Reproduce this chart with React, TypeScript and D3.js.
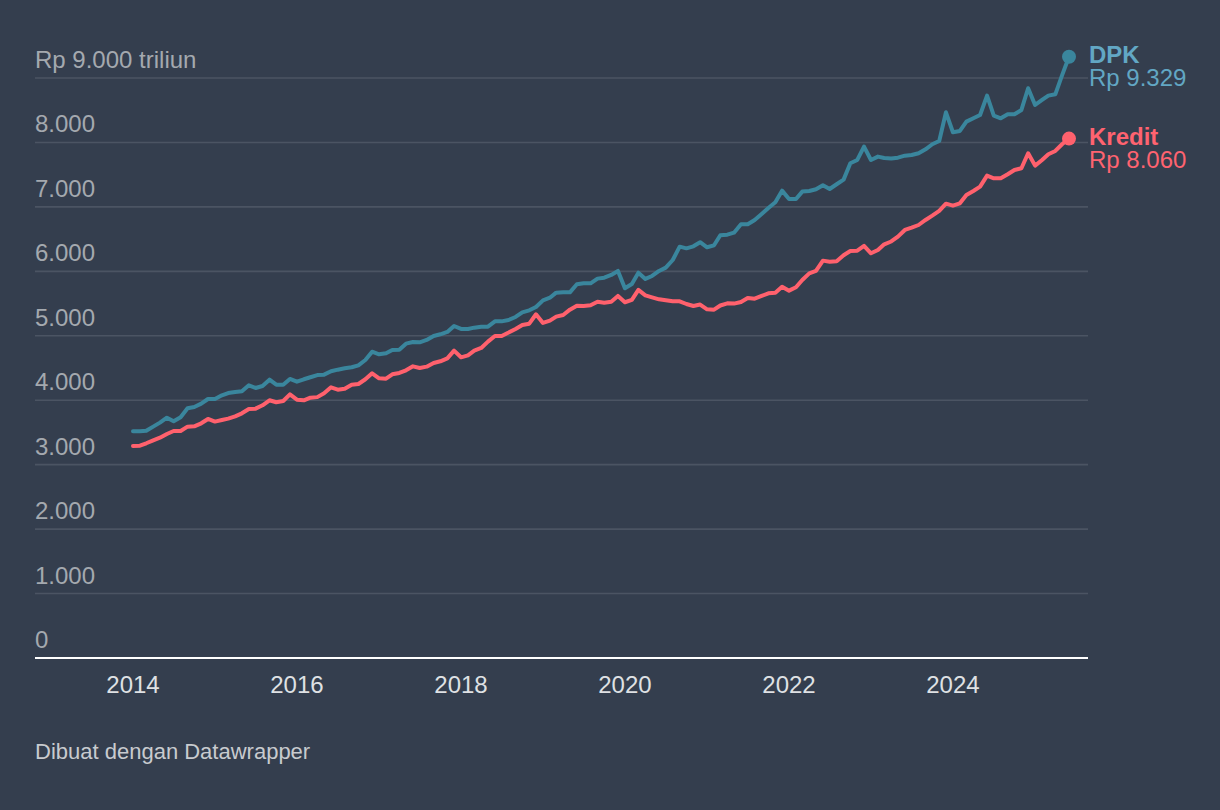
import { useEffect, useRef } from 'react';
import * as d3 from 'd3';

// monthly values, Jan 2014 .. Jun 2025 (Rp triliun)
const startMonth = new Date(2014, 0, 1);

const dpk = [
  3518, 3518, 3525, 3590, 3652, 3729, 3673, 3735, 3875, 3895, 3947, 4019,
  4019, 4076, 4112, 4128, 4139, 4232, 4190, 4221, 4319, 4241, 4241, 4330,
  4288, 4325, 4356, 4390, 4397, 4449, 4474, 4495, 4511, 4542, 4624, 4753,
  4713, 4728, 4780, 4785, 4878, 4904, 4899, 4935, 4997, 5023, 5059, 5152,
  5106, 5106, 5126, 5141, 5141, 5224, 5224, 5245, 5292, 5364, 5395, 5447,
  5550, 5591, 5669, 5674, 5674, 5799, 5814, 5814, 5887, 5902, 5944, 6006,
  5737, 5804, 5979, 5882, 5928, 6006, 6057, 6176, 6383, 6357, 6388, 6452,
  6373, 6404, 6559, 6569, 6600, 6730, 6730, 6797, 6890, 6983, 7072, 7252,
  7123, 7123, 7237, 7247, 7273, 7335, 7278, 7351, 7423, 7677, 7728, 7935,
  7728, 7780, 7759, 7750, 7764, 7795, 7806, 7832, 7894, 7972, 8023, 8468,
  8158, 8178, 8323, 8375, 8426, 8726, 8416, 8375, 8437, 8437, 8504, 8841,
  8582, 8659, 8726, 8747, 9040, 9329,
];

const kredit = [
  3290, 3295, 3332, 3378, 3419, 3476, 3523, 3523, 3590, 3595, 3642, 3709,
  3668, 3693, 3714, 3750, 3797, 3864, 3869, 3921, 3999, 3968, 3988, 4092,
  4009, 3999, 4040, 4048, 4107, 4200, 4164, 4179, 4241, 4252, 4325, 4418,
  4340, 4335, 4402, 4423, 4464, 4526, 4500, 4521, 4578, 4604, 4650, 4769,
  4666, 4697, 4769, 4811, 4909, 4997, 4997, 5050, 5106, 5168, 5188, 5334,
  5199, 5235, 5297, 5323, 5405, 5467, 5462, 5473, 5529, 5514, 5529, 5618,
  5520, 5556, 5711, 5628, 5597, 5566, 5550, 5535, 5535, 5493, 5462, 5485,
  5410, 5405, 5470, 5504, 5499, 5525, 5587, 5576, 5618, 5659, 5669, 5762,
  5700, 5752, 5866, 5969, 6006, 6166, 6150, 6155, 6249, 6316, 6321, 6394,
  6280, 6332, 6420, 6463, 6538, 6642, 6678, 6719, 6797, 6864, 6937, 7050,
  7019, 7056, 7185, 7247, 7314, 7485, 7444, 7444, 7506, 7573, 7599, 7832,
  7640, 7728, 7816, 7868, 7972, 8060,
];

const yTicks = [0, 1000, 2000, 3000, 4000, 5000, 6000, 7000, 8000, 9000];
const xTickYears = [2014, 2016, 2018, 2020, 2022, 2024];

const series = [
  { name: 'DPK', values: dpk, line: '#3a869d', label: '#62a7c4' },
  { name: 'Kredit', values: kredit, line: '#ff616d', label: '#ff6370' },
];

const W = 1220;
const H = 810;
const font = '"Liberation Sans", Arial, Helvetica, sans-serif';

const idLocale = d3.formatLocale({
  decimal: ',',
  thousands: '.',
  grouping: [3],
  currency: ['Rp ', ''],
});
const fmt = idLocale.format(',');

const App = () => {
  const ref = useRef<SVGSVGElement>(null);

  useEffect(() => {
    const svg = d3.select(ref.current);
    svg.selectAll('*').remove();

    const months = dpk.map((_, i) => d3.timeMonth.offset(startMonth, i));

    const x = d3.scaleTime()
      .domain([months[0], months[months.length - 1]])
      .range([133, 1069]);

    const y = d3.scaleLinear()
      .domain([0, 9000])
      .range([658, 78]);

    const left = 35;
    const right = 1088;

    svg.append('rect')
      .attr('width', W)
      .attr('height', H)
      .attr('fill', '#343e4e');

    // grid + y labels
    const grid = svg.append('g');
    yTicks.filter((t) => t > 0).forEach((t) => {
      grid.append('line')
        .attr('x1', left)
        .attr('x2', right)
        .attr('y1', y(t))
        .attr('y2', y(t))
        .attr('stroke', '#4b5463')
        .attr('stroke-width', 1.6);
    });
    yTicks.forEach((t) => {
      grid.append('text')
        .attr('x', left)
        .attr('y', y(t) - 10)
        .attr('fill', '#a4a9af')
        .attr('font-family', font)
        .attr('font-size', 24)
        .text(t === 9000 ? 'Rp ' + fmt(t) + ' triliun' : fmt(t));
    });

    // baseline
    svg.append('line')
      .attr('x1', left)
      .attr('x2', right)
      .attr('y1', y(0))
      .attr('y2', y(0))
      .attr('stroke', '#ffffff')
      .attr('stroke-width', 2);

    // x labels
    xTickYears.forEach((yr) => {
      svg.append('text')
        .attr('x', x(new Date(yr, 0, 1)))
        .attr('y', 693)
        .attr('text-anchor', 'middle')
        .attr('fill', '#dfe1e4')
        .attr('font-family', font)
        .attr('font-size', 24)
        .text(String(yr));
    });

    const line = d3.line<number>()
      .x((_, i) => x(months[i]))
      .y((d) => y(d));

    series.forEach((s) => {
      svg.append('path')
        .datum(s.values)
        .attr('d', line)
        .attr('fill', 'none')
        .attr('stroke', s.line)
        .attr('stroke-width', 4)
        .attr('stroke-linejoin', 'round')
        .attr('stroke-linecap', 'round');

      const last = s.values[s.values.length - 1];
      const lx = x(months[months.length - 1]);
      const ly = y(last);

      svg.append('circle')
        .attr('cx', lx)
        .attr('cy', ly)
        .attr('r', 7)
        .attr('fill', s.line);

      // end label: name + value in one block
      const lbl = svg.append('text')
        .attr('x', 1089)
        .attr('y', ly + 6)
        .attr('fill', s.label)
        .attr('font-family', font)
        .attr('font-size', 24);
      lbl.append('tspan')
        .attr('font-weight', 'bold')
        .text(s.name);
      lbl.append('tspan')
        .attr('x', 1089)
        .attr('dy', 23.5)
        .text('Rp ' + fmt(last));
    });

    svg.append('text')
      .attr('x', left)
      .attr('y', 759)
      .attr('fill', '#c8cbcf')
      .attr('font-family', font)
      .attr('font-size', 22)
      .text('Dibuat dengan Datawrapper');
  }, []);

  return (
    <svg
      ref={ref}
      width={W}
      height={H}
      style={{ position: 'absolute', left: 0, top: 0, display: 'block' }}
    />
  );
};

export default App;
